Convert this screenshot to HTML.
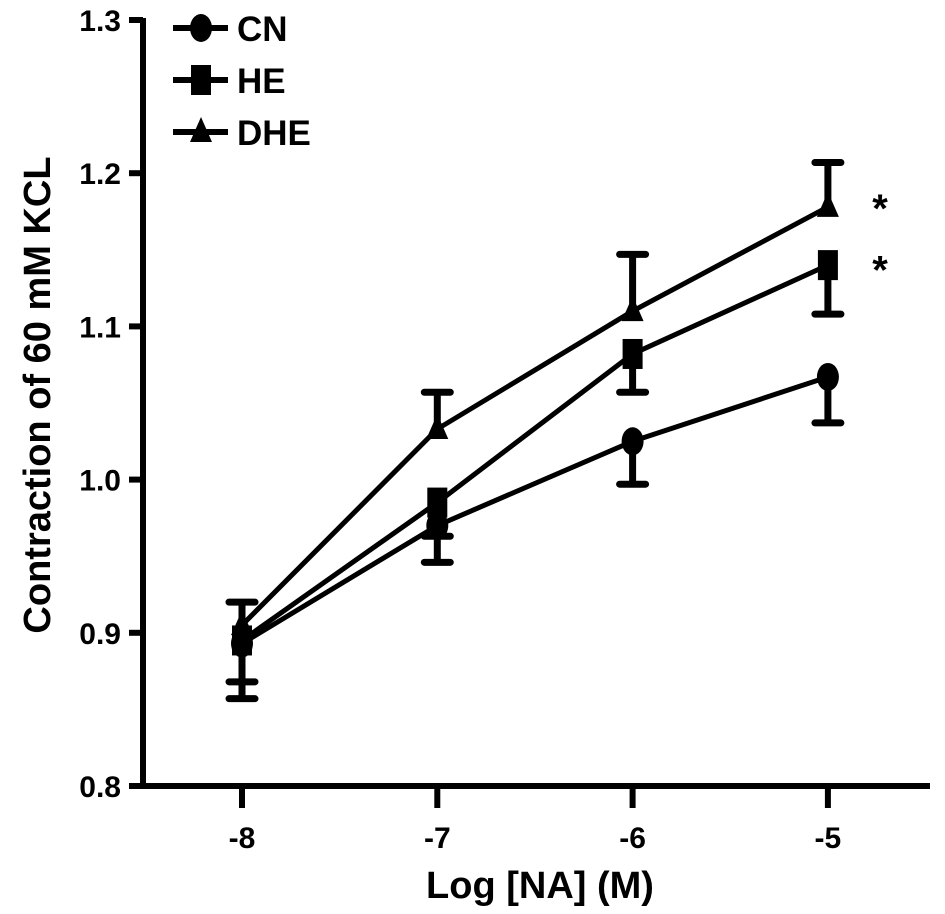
<!DOCTYPE html>
<html><head><meta charset="utf-8"><style>
html,body{margin:0;padding:0;background:#fff}
svg{display:block;font-family:"Liberation Sans",Arial,sans-serif;font-weight:bold}
</style></head><body>
<svg id="chart" width="945" height="914" viewBox="0 0 945 914"></svg>
<script>
const xCats=[-8,-7,-6,-5];
const yTicks=[0.8,0.9,1.0,1.1,1.2,1.3];
const yTickLabels=["0.8","0.9","1.0","1.1","1.2","1.3"];
const xTickLabels=["-8","-7","-6","-5"];
const seriesNames=["CN","HE","DHE"];
const cnVals=[0.893,0.970,1.025,1.067];
const cnErr=[0.025,0.024,0.028,0.030];
const heVals=[0.895,0.985,1.082,1.140];
const heErr=[0.038,0.022,0.025,0.032];
const dheVals=[0.905,1.033,1.110,1.178];
const dheErr=[0.015,0.024,0.037,0.029];
const sigStars=["*","*"];
const sigVals=[1.185,1.145];

const NS="http://www.w3.org/2000/svg";
const svg=document.getElementById('chart');
const X0=143,X1=930,Y0=786,Ytop=20;
function xs(v){return 242+(v-(-8))*195.3;}
function ys(v){return Y0-(v-0.8)*(Y0-Ytop)/0.5;}
function el(t,a,p){const e=document.createElementNS(NS,t);for(const k in a)e.setAttribute(k,a[k]);(p||svg).appendChild(e);return e;}

const ax=el('g',{});


const yl=el('line',{x1:X0,y1:Ytop-2,x2:X0,y2:Y0+3,stroke:'#000','stroke-width':6},ax);


const xl=el('line',{x1:X0-2,y1:Y0,x2:X1,y2:Y0,stroke:'#000','stroke-width':6},ax);


yTicks.forEach((v,i)=>{
  el('line',{x1:X0-14,y1:ys(v),x2:X0,y2:ys(v),stroke:'#000','stroke-width':6},ax);
  const t=el('text',{x:X0-22,y:ys(v)+11,'text-anchor':'end','font-size':30},ax);
  t.textContent=yTickLabels[i];
  
  
});
xCats.forEach((v,i)=>{
  el('line',{x1:xs(v),y1:Y0,x2:xs(v),y2:Y0+22,stroke:'#000','stroke-width':6},ax);
  const t=el('text',{x:xs(v),y:Y0+62,'text-anchor':'middle','font-size':30},ax);
  t.textContent=xTickLabels[i];
  
  
});
const yt=el('text',{x:0,y:0,'text-anchor':'middle','font-size':38,transform:'translate(50,395) rotate(-90)'});
yt.textContent='Contraction of 60 mM KCL';


const xt=el('text',{x:540,y:898,'text-anchor':'middle','font-size':38});
xt.textContent='Log [NA] (M)';



function marker(kind,x,y,g){
  if(kind==='CN') return el('ellipse',{cx:x,cy:y,rx:11,ry:14,fill:'#000'},g);
  if(kind==='HE') return el('rect',{x:x-10,y:y-15,width:20,height:30,fill:'#000'},g);
  return el('polygon',{points:`${x},${y-15} ${x+11},${y+10} ${x-11},${y+10}`,fill:'#000'},g);
}
const all=[[cnVals,cnErr,-1],[heVals,heErr,-1],[dheVals,dheErr,1]];
all.forEach((s,si)=>{
  const g=el('g',{});
  
  
  const [vals,errs,dir]=s;
  const pts=vals.map((v,i)=>xs(xCats[i])+','+ys(v)).join(' ');
  const ln=el('polyline',{points:pts,fill:'none',stroke:'#000','stroke-width':5},g);
  
  
  vals.forEach((v,i)=>{
    const x=xs(xCats[i]),e=v+dir*errs[i];
    const eb=el('path',{d:`M${x},${ys(v)}V${ys(e)}M${x-13},${ys(e)}H${x+13}`,stroke:'#000','stroke-width':7,fill:'none','stroke-linecap':'round'},g);
    
    
    const m=marker(seriesNames[si],x,ys(v),g);
    
    
  });
});
sigStars.forEach((s,i)=>{
  const t=el('text',{x:880,y:ys(sigVals[i])+26,'text-anchor':'middle','font-size':40});
  t.textContent=s;
  
  
});
const lg=el('g',{});


seriesNames.forEach((n,i)=>{
  const y=28+i*52;
  const g=el('g',{},lg);
  
  
  el('line',{x1:173,y1:y,x2:228,y2:y,stroke:'#000','stroke-width':6},g);
  marker(n,201,y,g);
  const t=el('text',{x:237,y:y+13,'font-size':35},g);
  t.textContent=n;
});
</script>
</body></html>
